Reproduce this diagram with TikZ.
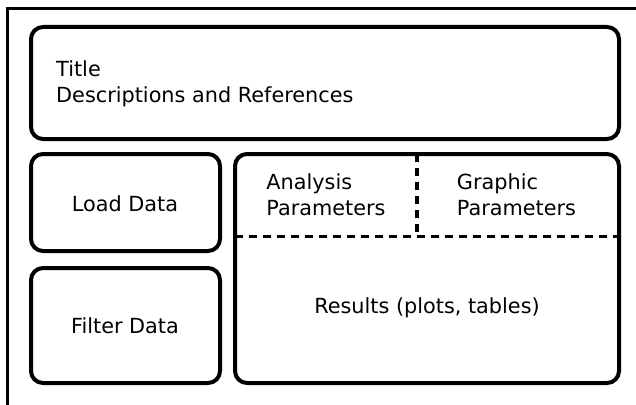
\documentclass[tikz,border=0pt]{standalone}
\usepackage{fontspec}
\setmainfont{DejaVu Sans}
\begin{document}
\begin{tikzpicture}[x=1pt,y=-1pt,
  panel/.style={draw=black,line width=4pt,rounded corners=12pt},
  divider/.style={draw=black,line width=3.5pt,dash pattern=on 8pt off 6pt},
  frameline/.style={draw=black,line width=3pt},
  lbl/.style={font=\fontsize{20.8}{25.5}\selectfont,align=center,inner sep=0pt},
  every node/.style={text=black}]
\useasboundingbox (0,0) rectangle (636,404);
\fill[white] (0,0) rectangle (636,404);
% outer frame (cropped)
\coordinate (fbl) at (7,406);
\coordinate (ftl) at (7,9);
\coordinate (ftr) at (638,9);
\draw[frameline] (fbl) -- (ftl) -- (ftr);
% panels
\draw[panel] (31,27) rectangle (619,139);
\draw[panel] (31,154) rectangle (220,251);
\draw[panel] (31,268) rectangle (220,383);
\draw[panel] (235,154) rectangle (619,383);
% dividers
\coordinate (hl) at (235,236.5);
\coordinate (hr) at (619,236.5);
\coordinate (vt) at (417,154);
\coordinate (vb) at (417,236.5);
\draw[divider] (hl) -- (hr);
\draw[divider] (vt) -- (vb);
% texts
\node[lbl,anchor=west,align=left] (title) at (56,84) {Title\\Descriptions and References};
\node[lbl] (load) at (125,204) {Load Data};
\node[lbl] (filter) at (125,326) {Filter Data};
\node[lbl,align=left] (ana) at (326,194.5) {Analysis\\Parameters};
\node[lbl,align=left] (gra) at (516.5,194.5) {Graphic\\Parameters};
\node[lbl] (res) at (427,308) {Results (plots, tables)};
\end{tikzpicture}
\end{document}
